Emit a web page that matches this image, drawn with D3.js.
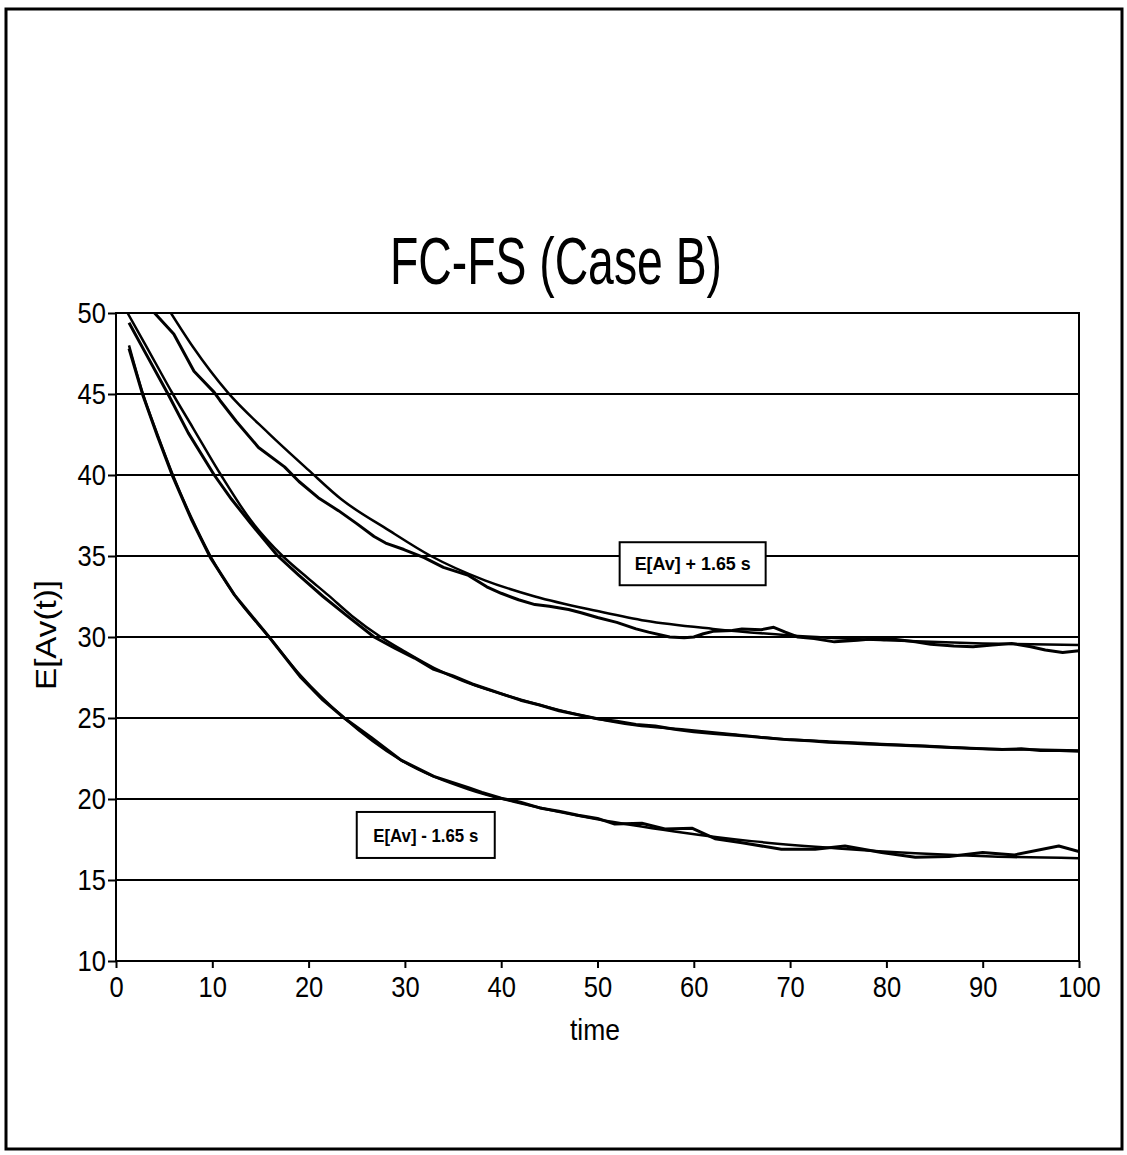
<!DOCTYPE html>
<html>
<head>
<meta charset="utf-8">
<script src="https://cdn.jsdelivr.net/npm/d3@7"></script>
<style>
  html, body { margin: 0; padding: 0; background: #fff; }
  svg { display: block; }
  text { font-family: "Liberation Sans", Arial, sans-serif; fill: #000; }
</style>
</head>
<body>
<div id="chart"></div>
<script>
const yTicks = [10, 15, 20, 25, 30, 35, 40, 45, 50];
const xTicks = [0, 10, 20, 30, 40, 50, 60, 70, 80, 90, 100];

// E[Av] + 1.65 s, analytical (smooth) and simulated (noisy)
const upperModel = [
  [5.7, 50], [8, 47.9], [11.6, 45.1], [15.8, 42.6], [20, 40.3], [23.4, 38.5],
  [28.3, 36.6], [32.7, 35.0], [38.3, 33.5], [43.5, 32.5], [50, 31.6], [55, 31.0],
  [62, 30.5], [70, 30.1], [80, 29.8], [90, 29.6], [100, 29.5],
];
const upperSim = [
  [4.0, 50], [6, 48.7], [8.1, 46.4], [10.2, 45.1], [10.8, 44.6], [12.5, 43.3],
  [14.8, 41.7], [17.5, 40.5], [19, 39.6], [21, 38.6], [23.1, 37.8], [25, 37.0],
  [26.8, 36.2], [28, 35.8], [29.9, 35.4], [32, 34.9], [34, 34.3], [36.6, 33.8],
  [38.5, 33.1], [40, 32.7], [41.8, 32.3], [43.5, 32.0], [45, 31.9], [47, 31.7],
  [48.3, 31.5], [50, 31.2], [52, 30.9], [54, 30.5], [55.3, 30.3], [57.5, 30.0],
  [59, 29.95], [60, 30.0], [61, 30.2], [62, 30.35], [64, 30.4], [65, 30.5],
  [67, 30.45], [68.3, 30.6], [69.5, 30.3], [70.8, 30.0], [72.5, 29.9], [74.6, 29.7],
  [77, 29.8], [79, 29.9], [81, 29.85], [83, 29.7], [84.6, 29.55], [87, 29.45],
  [89, 29.4], [91, 29.5], [93, 29.6], [95, 29.4], [96.5, 29.2], [98.3, 29.05], [100, 29.15],
];

// E[Av]
const meanModel = [
  [1.2, 50], [3, 48.1], [5.9, 45.0], [8, 42.9], [10.9, 40.0], [14, 37.2],
  [17.3, 35.0], [20, 33.6], [22, 32.6], [24.5, 31.3], [27.5, 30.0], [30, 29.1],
  [33, 28.1], [36, 27.3], [40, 26.5], [44, 25.8], [48, 25.2], [54, 24.55],
  [58.7, 24.3], [64, 24.0], [69, 23.7], [74, 23.55], [79.5, 23.4], [85, 23.25],
  [90, 23.1], [95, 23.05], [100, 23.0],
];
const meanSim = [
  [1.35, 49.4], [3, 47.6], [5.4, 45.0], [7.5, 42.6], [10.2, 40.0], [12, 38.5],
  [14, 37.0], [16.8, 35.0], [19, 33.8], [21.5, 32.5], [24, 31.3], [26.8, 30.0],
  [29, 29.3], [31, 28.7], [33, 28.0], [35, 27.6], [37, 27.1], [39, 26.7],
  [40.5, 26.4], [42, 26.1], [44, 25.8], [46, 25.45], [48, 25.2], [50, 24.95],
  [52, 24.8], [54, 24.6], [56, 24.5], [58, 24.3], [60, 24.15], [62, 24.05],
  [64, 23.95], [66, 23.85], [68, 23.75], [70, 23.65], [72, 23.6], [74, 23.5],
  [76, 23.45], [78, 23.4], [80, 23.35], [82, 23.3], [84, 23.25], [86, 23.2],
  [88, 23.15], [90, 23.1], [92, 23.05], [94, 23.1], [96, 23.0], [98, 23.0], [100, 22.95],
];

// E[Av] - 1.65 s
const lowerModel = [
  [1.35, 48.0], [2.8, 45.0], [4.3, 42.5], [5.9, 40.0], [7.8, 37.4], [9.8, 35.0],
  [12.3, 32.6], [15.9, 30.0], [19.2, 27.6], [23.7, 25.0], [29.6, 22.4], [36.6, 20.6],
  [43, 19.6], [50, 18.75], [58, 18.0], [66, 17.4], [75, 16.95], [83, 16.65],
  [91, 16.45], [100, 16.35],
];
const lowerSim = [
  [1.35, 47.8], [2.8, 44.9], [4.3, 42.4], [5.9, 39.9], [7.8, 37.3], [9.8, 34.9],
  [12.3, 32.6], [15.9, 30.0], [19.2, 27.5], [21.5, 26.1], [23.7, 25.0], [26.5, 23.8],
  [29.6, 22.4], [33, 21.4], [36.6, 20.7], [38, 20.4], [40, 20.05], [42, 19.8],
  [44, 19.45], [46, 19.25], [48, 19.0], [50, 18.8], [51.8, 18.45], [54.6, 18.5],
  [57, 18.15], [59.8, 18.2], [62.2, 17.55], [65, 17.3], [69.1, 16.9], [72.6, 16.9],
  [75.7, 17.1], [79.5, 16.7], [83, 16.4], [86.5, 16.45], [90, 16.7], [93.3, 16.55],
  [97.9, 17.1], [100, 16.75],
];

const bandLabels = [
  { text: "E[Av] + 1.65 s", t: 52.3, v: 35.85 },
  { text: "E[Av] - 1.65 s", t: 25.0, v: 19.2 },
];

const width = 1127;
const height = 1155;
const plot = { left: 116, right: 1079, top: 313, bottom: 961 };

const x = d3.scaleLinear().domain([0, 100]).range([plot.left, plot.right]);
const y = d3.scaleLinear().domain([10, 50]).range([plot.bottom, plot.top]);

const svg = d3
  .select("#chart")
  .append("svg")
  .attr("width", width)
  .attr("height", height);

// outer border of the page
svg
  .append("rect")
  .attr("x", 6)
  .attr("y", 9)
  .attr("width", 1116)
  .attr("height", 1140)
  .attr("fill", "none")
  .attr("stroke", "#000")
  .attr("stroke-width", 3);

svg
  .append("text")
  .attr("x", 556)
  .attr("y", 284)
  .attr("text-anchor", "middle")
  .attr("font-size", 66)
  .attr("textLength", 332)
  .attr("lengthAdjust", "spacingAndGlyphs")
  .text("FC-FS (Case B)");

// horizontal grid
svg
  .append("g")
  .selectAll("line")
  .data(yTicks.filter((d) => d > 10))
  .join("line")
  .attr("x1", plot.left)
  .attr("x2", plot.right)
  .attr("y1", (d) => y(d))
  .attr("y2", (d) => y(d))
  .attr("stroke", "#000")
  .attr("stroke-width", 2);

svg
  .append("defs")
  .append("clipPath")
  .attr("id", "plot-clip")
  .append("rect")
  .attr("x", plot.left)
  .attr("y", plot.top)
  .attr("width", plot.right - plot.left)
  .attr("height", plot.bottom - plot.top);

const smoothLine = d3
  .line()
  .x((d) => x(d[0]))
  .y((d) => y(d[1]))
  .curve(d3.curveMonotoneX);

const roughLine = d3
  .line()
  .x((d) => x(d[0]))
  .y((d) => y(d[1]))
  .curve(d3.curveLinear);

const curves = svg.append("g").attr("clip-path", "url(#plot-clip)");

[upperModel, meanModel, lowerModel].forEach((series) => {
  curves
    .append("path")
    .attr("d", smoothLine(series))
    .attr("fill", "none")
    .attr("stroke", "#000")
    .attr("stroke-width", 2.5);
});

[upperSim, meanSim, lowerSim].forEach((series) => {
  curves
    .append("path")
    .attr("d", roughLine(series))
    .attr("fill", "none")
    .attr("stroke", "#000")
    .attr("stroke-width", 3)
    .attr("stroke-linejoin", "round");
});

// plot frame
svg
  .append("rect")
  .attr("x", plot.left)
  .attr("y", plot.top)
  .attr("width", plot.right - plot.left)
  .attr("height", plot.bottom - plot.top)
  .attr("fill", "none")
  .attr("stroke", "#000")
  .attr("stroke-width", 2);

const yAxis = svg
  .append("g")
  .attr("transform", `translate(${plot.left},0)`)
  .call(d3.axisLeft(y).tickValues(yTicks).tickSize(8).tickPadding(2));

const xAxis = svg
  .append("g")
  .attr("transform", `translate(0,${plot.bottom})`)
  .call(d3.axisBottom(x).tickValues(xTicks).tickSize(7).tickPadding(8));

[yAxis, xAxis].forEach((axis) => {
  axis.select(".domain").remove();
  axis.selectAll("line").attr("stroke", "#000").attr("stroke-width", 2);
  axis
    .selectAll("text")
    .attr("font-size", 30)
    .attr("font-family", '"Liberation Sans", Arial, sans-serif')
    .attr("fill", "#000")
    .attr("textLength", (d) => String(d).length * 14.2)
    .attr("lengthAdjust", "spacingAndGlyphs");
});

svg
  .append("text")
  .attr("x", 595)
  .attr("y", 1040)
  .attr("text-anchor", "middle")
  .attr("font-size", 29)
  .attr("textLength", 50)
  .attr("lengthAdjust", "spacingAndGlyphs")
  .text("time");

svg
  .append("text")
  .attr("transform", "translate(56,635) rotate(-90)")
  .attr("text-anchor", "middle")
  .attr("font-size", 30)
  .attr("textLength", 110)
  .attr("lengthAdjust", "spacingAndGlyphs")
  .text("E[Av(t)]");

// band labels
const labelGroup = svg
  .append("g")
  .selectAll("g")
  .data(bandLabels)
  .join("g")
  .attr("transform", (d) => `translate(${x(d.t)},${y(d.v)})`);

labelGroup
  .append("rect")
  .attr("x", 0)
  .attr("y", 0)
  .attr("width", (d, i) => (i === 0 ? 146 : 138))
  .attr("height", (d, i) => (i === 0 ? 43 : 46))
  .attr("fill", "#fff")
  .attr("stroke", "#000")
  .attr("stroke-width", 2);

labelGroup
  .append("text")
  .attr("x", (d, i) => (i === 0 ? 73 : 69))
  .attr("y", (d, i) => (i === 0 ? 28 : 30))
  .attr("text-anchor", "middle")
  .attr("font-size", 18)
  .attr("font-weight", "bold")
  .attr("textLength", (d, i) => (i === 0 ? 116 : 105))
  .attr("lengthAdjust", "spacingAndGlyphs")
  .text((d) => d.text);
</script>
</body>
</html>
